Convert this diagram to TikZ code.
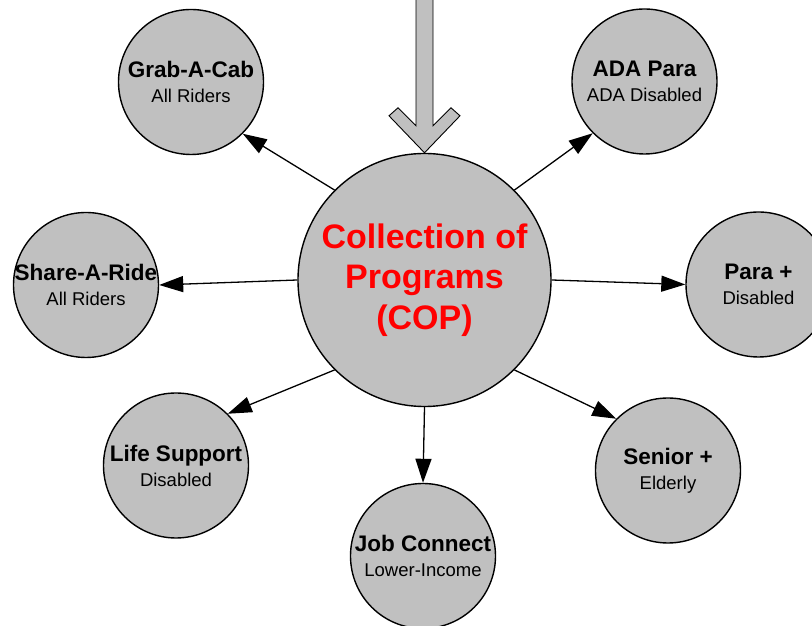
\documentclass[tikz,border=0pt]{standalone}
\usepackage{fontspec}
\setmainfont{Liberation Sans}
\usetikzlibrary{arrows.meta}
\definecolor{copgray}{HTML}{C0C0C0}

\begin{document}
\begin{tikzpicture}[
    x=1pt, y=1pt,
    prog/.style={circle, draw, line width=1.4pt, fill=copgray, minimum size=145pt, inner sep=0pt},
    core/.style={prog, minimum size=253pt, text=red, align=center, font=\bfseries\fontsize{34}{40.5}\selectfont},
    every label/.style={align=center, font=\fontsize{18.5}{25}\selectfont},
    link/.style={-{Triangle[length=24pt, width=16pt]}, line width=1.3pt},
    feed/.style={draw, fill=copgray, line width=0.9pt, line join=miter}
]
\useasboundingbox (0,0) rectangle (812,626);
\node[core] (cop) at (424.5,346) {Collection of\\Programs\\(COP)};
\node[prog, label={center:{\textbf{\fontsize{22.5}{25}\selectfont Grab-A-Cab}\\All Riders}}] (grab) at (191,544) {};
\node[prog, label={center:{\textbf{\fontsize{22.5}{25}\selectfont ADA Para}\\ADA Disabled}}] (ada) at (644.5,544.5) {};
\node[prog, label={center:{\textbf{\fontsize{22.5}{25}\selectfont Share-A-Ride}\\All Riders}}] (share) at (86,341) {};
\node[prog, label={center:{\textbf{\fontsize{22.5}{25}\selectfont Para +}\\Disabled}}] (para) at (758.5,341.5) {};
\node[prog, label={center:{\textbf{\fontsize{22.5}{25}\selectfont Life Support}\\Disabled}}] (life) at (176,160.5) {};
\node[prog, label={center:{\textbf{\fontsize{22.5}{25}\selectfont Job Connect}\\Lower-Income}}] (job) at (423,70) {};
\node[prog, label={center:{\textbf{\fontsize{22.5}{25}\selectfont Senior +}\\Elderly}}] (senior) at (668,155.5) {};
% incoming block arrow
\draw[feed, shift={(cop.north)}] (0,0) -- (-35.5,37) -- (-26.5,45) -- (-8.5,27) -- (-8.5,160)
    -- (8.5,160) -- (8.5,27) -- (26.5,45) -- (35.5,37) -- cycle;
\draw[link] (cop.135) -- (grab.-45);
\draw[link] (cop.45) -- (ada.225);
\draw[link] (cop.180) -- (share.0);
\draw[link] (cop.0) -- (para.180);
\draw[link] (cop.225) -- (life.45);
\draw[link] (cop.270) -- (job.90);
\draw[link] (cop.315) -- (senior.135);
\end{tikzpicture}
\end{document}
